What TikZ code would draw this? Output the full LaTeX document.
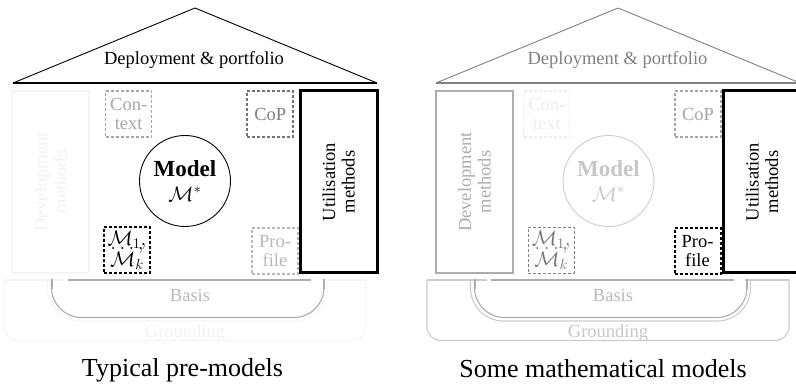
\RequirePackage{fix-cm}
\documentclass[tikz,border=0pt]{standalone}
\usepackage[no-math]{fontspec}
\setmainfont{Liberation Serif}
\begin{document}
\begin{tikzpicture}[x=1pt,y=-1pt,
  lbl/.style={font=\fontsize{18.5}{19.5}\selectfont, align=center, inner sep=0pt},
  sqbox/.style={lbl, rectangle, draw, minimum width=46pt, minimum height=46pt},
  mathbox/.style={sqbox, font=\fontsize{21}{22}\selectfont},
  dshort/.style={dash pattern=on 3pt off 2pt},
  tallbox/.style={lbl, rectangle, draw, rotate=90, minimum width=182pt, minimum height=77pt},
  modelnode/.style={circle, draw, inner sep=0pt, minimum size=91pt, align=center,
    font=\fontsize{21}{25}\selectfont},
  roofline/.style={line width=0.9pt, line join=miter},
  roofbase/.style={line width=2.2pt},
  caption/.style={font=\fontsize{26}{30}\selectfont, inner sep=0pt, anchor=base},
  basisline/.style={line width=1.1pt},
  gndline/.style={line width=1.1pt},
]
\useasboundingbox (0,0) rectangle (796,387);

% ---------------- left house: typical pre-models ----------------
% roof
\coordinate (Lapex) at (195,8);
\coordinate (Lroofl) at (13,83);
\coordinate (Lroofr) at (377,83);
\draw[roofline] (Lroofl) -- (Lapex) -- (Lroofr);
\draw[roofbase] (Lroofl) -- (Lroofr);
\node[lbl, anchor=base] (Ldeploy) at (194,65) {Deployment \& portfolio};

% pillars
\node[tallbox, draw=black!4, text=black!5, line width=1.5pt] (Ldev) at (50.5,182) {Development\\methods};
\node[tallbox, line width=3pt] (Lutil) at (338.5,182) {Utilisation\\methods};

% small boxes
\node[sqbox, dshort, draw=black!35, text=black!35, line width=1.5pt] (Lctx) at (128.7,114) {Con-\\text};
\node[sqbox, dshort, draw=black!55, text=black!50, line width=2pt] (Lcop) at (270.2,114) {CoP};
\node[mathbox, dshort, draw=black, line width=2pt] (Lms) at (127,250.5)
  {$\mathcal{M}_1,$\\[-18.2pt]$\dots,$\\[-5.2pt]$\mathcal{M}_k$};
\node[sqbox, dshort, draw=black!28, text=black!28, line width=1.1pt] (Lprof) at (275,251) {Pro-\\file};

% central model
\node[modelnode, line width=0.9pt] (Lmodel) at (185,181)
  {{\fontsize{23}{25}\selectfont\bfseries Model}\\$\mathcal{M}^*$};

% grounding (very faint)
\begin{scope}[draw=black!4, gndline]
  \draw (4,280) -- (64,280);
  \draw (322,280) -- (366,280);
  \draw[rounded corners=14pt] (4,280) -- (4,340.5) -- (366,340.5) -- (366,280);
  \draw[rounded corners=33pt] (47.5,280) -- (47.5,321) -- (327.5,321) -- (327.5,280);
\end{scope}
\node[lbl, text=black!5] (Lgnd) at (185,333) {Grounding};

% basis
\begin{scope}[draw=black!32]
  \draw[line width=2.2pt] (68,280) -- (311,280);
  \draw[basisline, rounded corners=30pt] (51.5,279) -- (51.5,317.5) -- (324,317.5) -- (324,279);
  \draw[line width=2pt] (52,279) -- (52,289);
  \draw[line width=2pt] (323.5,279) -- (323.5,289);
\end{scope}
\node[lbl, text=black!27] (Lbasis) at (190,295) {Basis};

\node[caption] (Lcap) at (182.5,377) {Typical pre-models};

% ---------------- right house: some mathematical models ----------------
\coordinate (Rapex) at (618,8);
\coordinate (Rroofl) at (436,83);
\coordinate (Rroofr) at (800,83);
\draw[roofline, draw=black!50] (Rroofl) -- (Rapex) -- (Rroofr);
\draw[roofbase, draw=black!50] (Rroofl) -- (Rroofr);
\node[lbl, anchor=base, text=black!50] (Rdeploy) at (617.5,65) {Deployment \& portfolio};

\node[tallbox, draw=black!32, text=black!32, line width=1.6pt] (Rdev) at (474.5,182) {Development\\methods};
\node[tallbox, line width=3pt] (Rutil) at (762,182) {Utilisation\\methods};

\node[sqbox, dshort, draw=black!7, text=black!7, line width=1.1pt] (Rctx) at (546.8,114) {Con-\\text};
\node[sqbox, dshort, draw=black!35, text=black!35, line width=2pt] (Rcop) at (698,114) {CoP};
\node[mathbox, dshort, draw=black!50, text=black!55, line width=1.1pt] (Rms) at (551.3,250.5)
  {$\mathcal{M}_1,$\\[-18.2pt]$\dots,$\\[-5.2pt]$\mathcal{M}_k$};
\node[sqbox, dshort, draw=black, line width=2pt] (Rprof) at (697.5,251) {Pro-\\file};

\node[modelnode, line width=0.9pt, draw=black!20, text=black!22] (Rmodel) at (608.5,181)
  {{\fontsize{23}{25}\selectfont\bfseries Model}\\$\mathcal{M}^*$};

% grounding
\begin{scope}[draw=black!20, gndline]
  \draw (427,280) -- (487,280);
  \draw (745,280) -- (789,280);
  \draw[rounded corners=14pt] (427,280) -- (427,340.5) -- (789,340.5) -- (789,280);
  \draw[rounded corners=33pt] (470.5,280) -- (470.5,321) -- (750.5,321) -- (750.5,280);
\end{scope}
\node[lbl, text=black!22] (Rgnd) at (608,333) {Grounding};

% basis
\begin{scope}[draw=black!32]
  \draw[line width=2.2pt] (491,280) -- (734,280);
  \draw[basisline, rounded corners=30pt] (474.5,279) -- (474.5,317.5) -- (747,317.5) -- (747,279);
  \draw[line width=2pt] (475,279) -- (475,289);
  \draw[line width=2pt] (746.5,279) -- (746.5,289);
\end{scope}
\node[lbl, text=black!27] (Rbasis) at (613,295) {Basis};

\node[caption] (Rcap) at (603,378) {Some mathematical models};
\end{tikzpicture}
\end{document}
